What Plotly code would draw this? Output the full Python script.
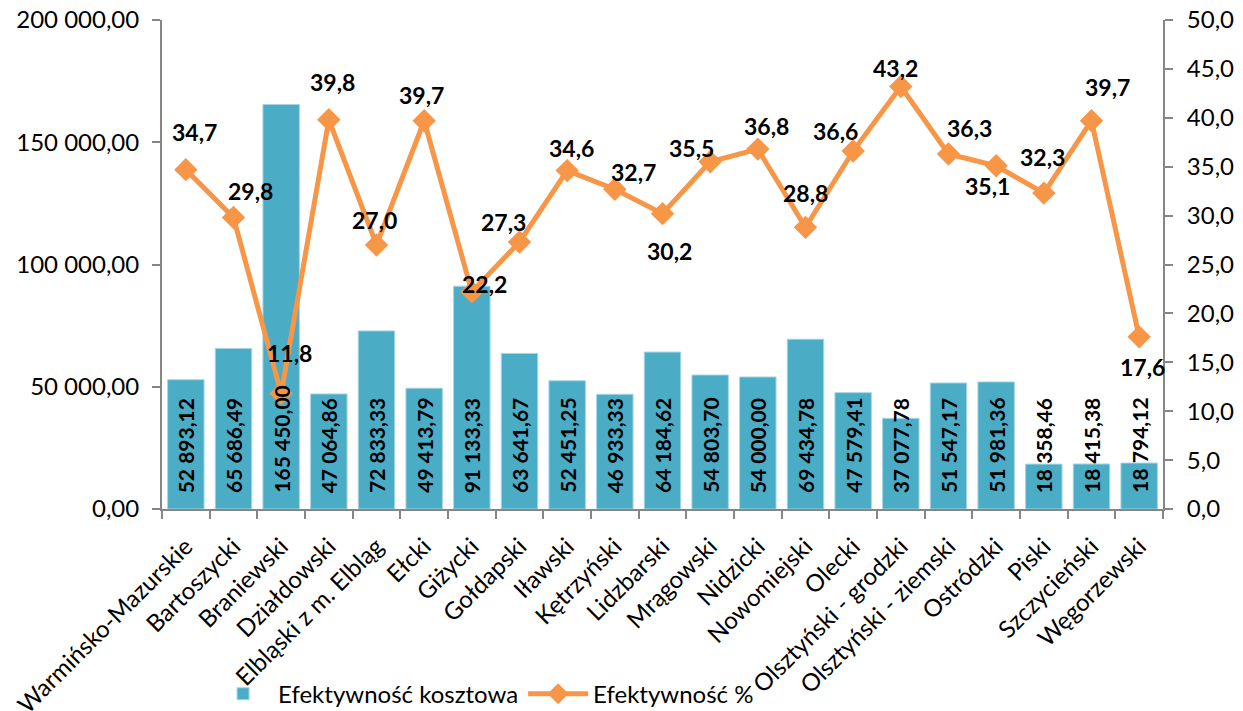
import plotly.graph_objects as go

categories = ["Warmińsko-Mazurskie", "Bartoszycki", "Braniewski", "Działdowski",
              "Elbląski z m. Elbląg", "Ełcki", "Giżycki", "Gołdapski", "Iławski",
              "Kętrzyński", "Lidzbarski", "Mrągowski", "Nidzicki", "Nowomiejski",
              "Olecki", "Olsztyński - grodzki", "Olsztyński - ziemski", "Ostródzki",
              "Piski", "Szczycieński", "Węgorzewski"]
cost_eff = [52893.12, 65686.49, 165450.00, 47064.86, 72833.33, 49413.79, 91133.33,
            63641.67, 52451.25, 46933.33, 64184.62, 54803.70, 54000.00, 69434.78,
            47579.41, 37077.78, 51547.17, 51981.36, 18358.46, 18415.38, 18794.12]
pct_eff = [34.7, 29.8, 11.8, 39.8, 27.0, 39.7, 22.2, 27.3, 34.6, 32.7, 30.2, 35.5,
           36.8, 28.8, 36.6, 43.2, 36.3, 35.1, 32.3, 39.7, 17.6]
left_ticks = [0, 50000, 100000, 150000, 200000]
left_ticktext = ["0,00", "50 000,00", "100 000,00", "150 000,00", "200 000,00"]
right_ticks = [0, 5, 10, 15, 20, 25, 30, 35, 40, 45, 50]
right_ticktext = ["0,0", "5,0", "10,0", "15,0", "20,0", "25,0", "30,0", "35,0",
                  "40,0", "45,0", "50,0"]

# label offsets in pixels (style only)
lbl_dx = [9, 17, 8, 4, -2, -3, 13, -16, 4, 19, 7, -19, 9, 0, -18, -5, 21, -9, -1, 16, 3]
lbl_dy = [-38, -27, -41, -38, -25, -26, -8, -20, -23, -17, 37, -14, -23, -34, -20, -19, -26, 20, -36, -34, 30]


def fmt_pl(v, dec):
    s = f"{v:,.{dec}f}"
    return s.replace(",", " ").replace(".", ",")


FONT = "Lato"
BAR_C = "#4BACC6"
LINE_C = "#F79646"

fig = go.Figure()
fig.add_trace(go.Bar(
    x=categories, y=cost_eff, name="Efektywność kosztowa",
    marker=dict(color=BAR_C, line=dict(color="#A6D6E4", width=1)),
    yaxis="y",
))
fig.add_trace(go.Scatter(
    x=categories, y=pct_eff, name="Efektywność %", mode="lines+markers",
    line=dict(color=LINE_C, width=5),
    marker=dict(symbol="diamond", size=18, color=LINE_C),
    yaxis="y2", cliponaxis=False,
))

# bar value labels (rotated, at the base of each bar)
for c, v in zip(categories, cost_eff):
    fig.add_annotation(
        x=c, y=0, xref="x", yref="y", text=fmt_pl(v, 2), showarrow=False,
        textangle=-90, yanchor="bottom", xanchor="center", yshift=14,
        font=dict(family=FONT, size=21, color="black", weight="bold"),
    )

# line value labels
for i, (c, v) in enumerate(zip(categories, pct_eff)):
    fig.add_annotation(
        x=c, y=v, xref="x", yref="y2", text=fmt_pl(v, 1), showarrow=False,
        xshift=lbl_dx[i], yshift=-lbl_dy[i],
        font=dict(family=FONT, size=23, color="black", weight="bold"),
    )

axis_col = "#868686"
fig.update_layout(
    width=1235, height=703,
    margin=dict(l=154, r=80, t=12, b=202),
    plot_bgcolor="white", paper_bgcolor="white",
    font=dict(family=FONT, size=22, color="black"),
    bargap=0.235,
    showlegend=True,
    legend=dict(orientation="h", xref="container", yref="container",
                x=0.162, y=0.024, xanchor="left", yanchor="middle",
                itemwidth=60, bgcolor="rgba(0,0,0,0)",
                font=dict(family=FONT, size=24, color="black")),
    xaxis=dict(
        automargin=False, range=[-0.5, len(categories) - 0.5],
        showline=True, linecolor=axis_col, linewidth=2,
        ticks="outside", tickson="boundaries", ticklen=8, tickcolor=axis_col,
        tickwidth=2, tickangle=-45, showgrid=False, ticklabelstandoff=12,
        tickfont=dict(family=FONT, size=24, color="black"),
    ),
    yaxis=dict(
        automargin=False,
        range=[0, 200000], tickvals=left_ticks, ticktext=left_ticktext,
        showline=True, linecolor=axis_col, linewidth=2, ticks="outside",
        ticklen=8, tickcolor=axis_col, tickwidth=2, showgrid=False, zeroline=False,
        ticklabelstandoff=8, ticklabeloverflow="allow",
        tickfont=dict(family=FONT, size=24, color="black"),
    ),
    yaxis2=dict(
        automargin=False,
        range=[0, 50], tickvals=right_ticks, ticktext=right_ticktext,
        overlaying="y", side="right",
        showline=True, linecolor=axis_col, linewidth=2, ticks="outside",
        ticklen=8, tickcolor=axis_col, tickwidth=2, showgrid=False, zeroline=False,
        ticklabelstandoff=9, ticklabeloverflow="allow",
        tickfont=dict(family=FONT, size=24, color="black"),
    ),
)

fig.write_html("out.html")
